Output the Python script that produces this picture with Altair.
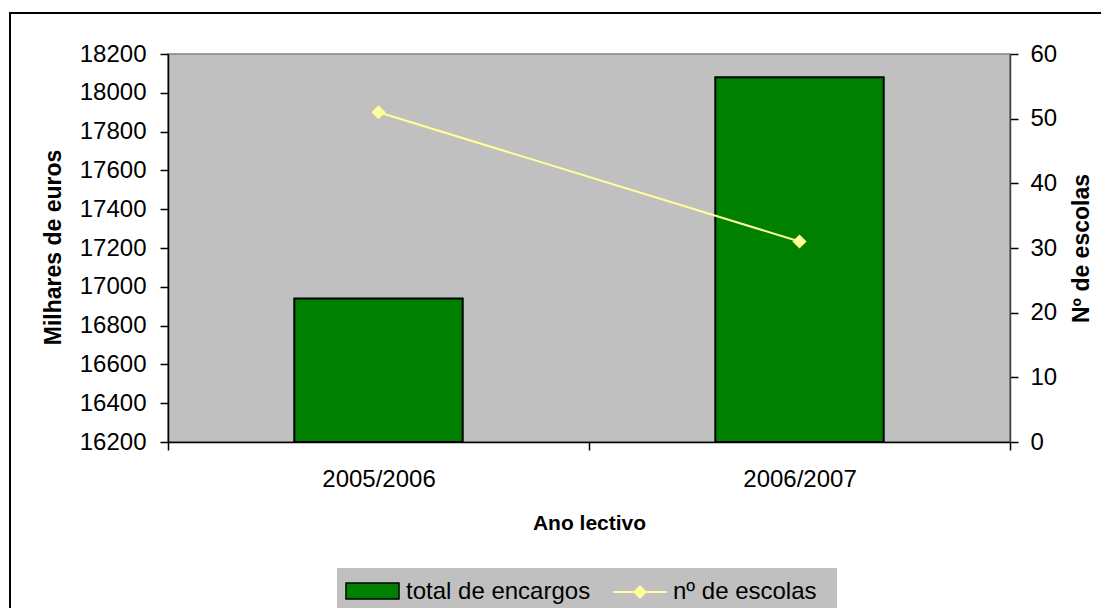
import altair as alt
import pandas as pd

# ---- data ----
years = ["2005/2006", "2006/2007"]
encargos = [16940, 18080]
escolas = [51, 31]
left_ticks = [16200, 16400, 16600, 16800, 17000, 17200, 17400, 17600, 17800, 18000, 18200]
right_ticks = [0, 10, 20, 30, 40, 50, 60]
legend_labels = ["total de encargos", "nº de escolas"]

df = pd.DataFrame({"ano": years, "encargos": encargos, "escolas": escolas})

GREEN = "#008000"
YELLOW = "#FFFF99"
GREY = "#C0C0C0"
FONT = "Liberation Sans"
LAB = 24
TIT = 21
TIT_V = 23

base = alt.Chart(df)

x_enc = alt.X(
    "ano:N",
    title="Ano lectivo",
    sort=years,
    scale=alt.Scale(paddingInner=0, paddingOuter=0),
    axis=alt.Axis(
        labelAngle=0, tickBand="extent", tickSize=8, labelPadding=17,
        labelFontSize=LAB, labelFont=FONT, labelColor="black",
        domainColor="black", tickColor="black", domainWidth=1.5, tickWidth=1.5,
        titleFontSize=TIT, titleFont=FONT, titleFontWeight="bold", titleColor="black",
        titleY=81, titleBaseline="middle",
    ),
)

bars = base.mark_bar(
    width=alt.RelativeBandSize(0.4), fill=GREEN, stroke="black", strokeWidth=2
).encode(
    x=x_enc,
    y=alt.Y(
        "encargos:Q",
        scale=alt.Scale(domain=[16200, 18200], zero=False, nice=False),
        axis=alt.Axis(
            orient="left", values=left_ticks, format="d", title="Milhares de euros", grid=False,
            tickSize=8, labelPadding=14, labelFontSize=LAB, labelFont=FONT, labelColor="black",
            domainColor="black", tickColor="black", domainWidth=1.5, tickWidth=1.5,
            titleFontSize=TIT_V, titleFont=FONT, titleFontWeight="bold", titleColor="black",
            titleAngle=270, titleX=-115, titleY=193, titleBaseline="middle", titleAlign="center",
        ),
    ),
    y2=alt.datum(left_ticks[0]),
)

line = base.mark_line(
    color=YELLOW, strokeWidth=2,
    point=alt.OverlayMarkDef(shape="diamond", size=200, filled=True, color=YELLOW, opacity=1),
).encode(
    x=alt.X("ano:N", sort=years),
    y=alt.Y(
        "escolas:Q",
        scale=alt.Scale(domain=[0, 60], nice=False),
        axis=alt.Axis(
            orient="right", values=right_ticks, format="d", title="Nº de escolas", grid=False,
            tickSize=8, labelPadding=12, labelFontSize=LAB, labelFont=FONT, labelColor="black",
            domainColor="#404040", tickColor="black", domainWidth=1.5, tickWidth=1.5,
            titleFontSize=TIT_V, titleFont=FONT, titleFontWeight="bold", titleColor="black",
            titleAngle=270, titleX=71, titleY=194, titleBaseline="middle", titleAlign="center",
        ),
    ),
)

one = alt.Data(values=[{}])

border = alt.Chart(one).mark_rect(filled=False, stroke="black", strokeWidth=2).encode(
    x=alt.value(-158), x2=alt.value(960), y=alt.value(-41), y2=alt.value(620)
)

leg_box = alt.Chart(one).mark_rect(fill=GREY).encode(
    x=alt.value(169), x2=alt.value(669), y=alt.value(514), y2=alt.value(561)
)
leg_swatch = alt.Chart(one).mark_rect(fill=GREEN, stroke="black", strokeWidth=1.5).encode(
    x=alt.value(178), x2=alt.value(231), y=alt.value(529), y2=alt.value(545)
)
leg_text1 = alt.Chart(one).mark_text(
    align="left", baseline="middle", fontSize=LAB, font=FONT, color="black"
).encode(x=alt.value(238), y=alt.value(538), text=alt.value(legend_labels[0]))
leg_rule = alt.Chart(one).mark_rule(color=YELLOW, strokeWidth=2).encode(
    x=alt.value(445), x2=alt.value(499), y=alt.value(538)
)
leg_point = alt.Chart(one).mark_point(
    shape="diamond", size=200, filled=True, color=YELLOW, opacity=1
).encode(x=alt.value(472), y=alt.value(538))
leg_text2 = alt.Chart(one).mark_text(
    align="left", baseline="middle", fontSize=LAB, font=FONT, color="black"
).encode(x=alt.value(505), y=alt.value(538), text=alt.value(legend_labels[1]))

chart = alt.layer(
    border, bars, line, leg_box, leg_swatch, leg_text1, leg_rule, leg_point, leg_text2
).resolve_scale(
    y="independent"
).properties(
    width=842,
    height=388,
    autosize=alt.AutoSizeParams(type="none"),
    padding={"left": 160, "top": 46, "right": 91, "bottom": 166},
    background="white",
).configure(
    font=FONT
).configure_view(
    fill=GREY, stroke="#808080", strokeWidth=1.5
)

chart.save("out.html", embed_options={"renderer": "svg", "actions": False})
